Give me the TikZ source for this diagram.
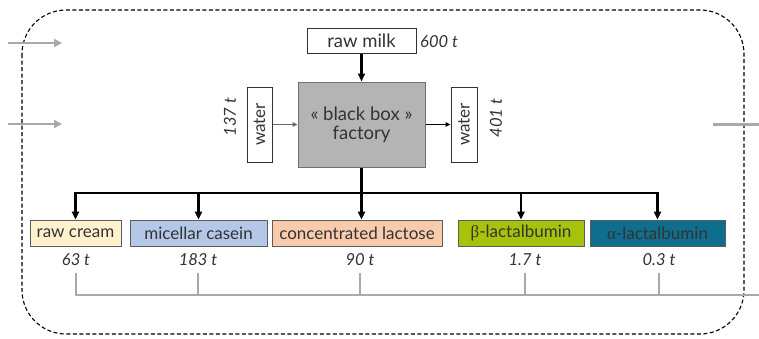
\documentclass[tikz,border=0pt]{standalone}
\usepackage{fontspec}
\setmainfont{Lato}
\newfontfamily\grk{Liberation Serif}
\usetikzlibrary{arrows.meta}
\definecolor{ink}{HTML}{333333}
\definecolor{flowgray}{HTML}{A9A9A9}
\definecolor{boxgray}{HTML}{B4B4B4}
\definecolor{creamfill}{HTML}{FFF2CC}
\definecolor{caseinfill}{HTML}{B4C7E7}
\definecolor{lactosefill}{HTML}{F8CBAD}
\definecolor{betafill}{HTML}{A6C20A}
\definecolor{alphafill}{HTML}{0F6E8E}
\tikzset{
  lbl/.style={font=\fontsize{17}{19}\selectfont, text=ink, inner sep=0pt},
  biglbl/.style={font=\fontsize{18.5}{20}\selectfont, text=ink, inner sep=0pt},
  val/.style={font=\fontsize{16.5}{18}\selectfont\itshape, text=ink, inner sep=1pt},
  plainbox/.style={lbl, draw=ink, line width=1pt, fill=white},
  product/.style={lbl, draw=ink!80, line width=0.8pt, minimum height=26pt},
  flow/.style={line width=2.4pt, -{Triangle[length=8pt,width=7pt]}},
  thinflow/.style={line width=1pt, -{Triangle[length=5pt,width=4.5pt]}},
  grayline/.style={flowgray, line width=2.6pt},
  grayarrow/.style={flowgray, line width=2.8pt, -{Triangle[length=8pt,width=8pt]}},
}
\begin{document}
\begin{tikzpicture}[x=1pt,y=-1pt]
\useasboundingbox (0,0) rectangle (759,338);

% system boundary
\draw[dash pattern=on 4pt off 2.5pt, line width=1.1pt, rounded corners=44pt]
  (22,10) rectangle (744,334);

% inputs
\node[plainbox, biglbl, minimum width=109pt, minimum height=25pt] (milk) at (361.5,40.5) {raw milk};
\node[val, anchor=west] (m600) at (419,42) {600 t};
\node[biglbl, draw=ink!70, line width=1pt, fill=boxgray, minimum width=127pt, minimum height=85pt, align=center]
  (bb) at (361.5,124.5) {« black box »\\[-1pt] factory};
\node[plainbox, minimum width=75pt, minimum height=25pt, rotate=90] (win) at (259.5,124.5) {water};
\node[val, rotate=90] (w137) at (230,117) {137 t};
\node[plainbox, minimum width=75pt, minimum height=26pt, rotate=90] (wout) at (464,124.5) {water};
\node[val, rotate=90] (w401) at (496,118) {401 t};

\draw[flow] (milk) -- (bb);
\draw[thinflow, ink!75] (win) -- (bb);
\draw[thinflow] (bb) -- (wout);

% products
\node[product, fill=creamfill, minimum width=91pt] (cream) at (75.5,233) {raw cream};
\node[product, fill=caseinfill, minimum width=137pt] (casein) at (198.5,233) {micellar casein};
\node[product, fill=lactosefill, minimum width=170pt] (lactose) at (357,233) {concentrated lactose};
\node[product, fill=betafill, minimum width=126pt] (beta) at (521,233) {{\grk β}-lactalbumin};
\node[product, fill=alphafill, minimum width=135pt] (alpha) at (657.5,233) {{\grk α}-lactalbumin};

\coordinate (split) at (361.5,193);
\draw[line width=2.4pt] (bb.south) -- (split);
\draw[flow] (split) -| (cream.north);
\draw[flow] (split) -| (casein.north);
\draw[flow] (split) -- (bb.south |- lactose.north);
\draw[flow] (split) -| (beta.north);
\draw[flow] (split) -| (alpha.north);

% quantities
\node[val] (q1) at (76,260) {63 t};
\node[val] (q2) at (198,260) {183 t};
\node[val] (q3) at (360,260) {90 t};
\node[val] (q4) at (525,260) {1.7 t};
\node[val] (q5) at (659,260) {0.3 t};

\coordinate (baseR) at (759,295);
\draw[grayline] (76,273) |- (baseR);
\foreach \x in {198,360,525,659} \draw[grayline] (\x,273) -- (\x,295);

% external flows crossing the boundary
\coordinate (inA0) at (8,43);  \coordinate (inA1) at (62,43);
\coordinate (inB0) at (8,124); \coordinate (inB1) at (62,124);
\coordinate (outR0) at (713,124.5); \coordinate (outR1) at (759,124.5);
\draw[grayarrow] (inA0) -- (inA1);
\draw[grayarrow] (inB0) -- (inB1);
\draw[grayline] (outR0) -- (outR1);
\end{tikzpicture}
\end{document}
